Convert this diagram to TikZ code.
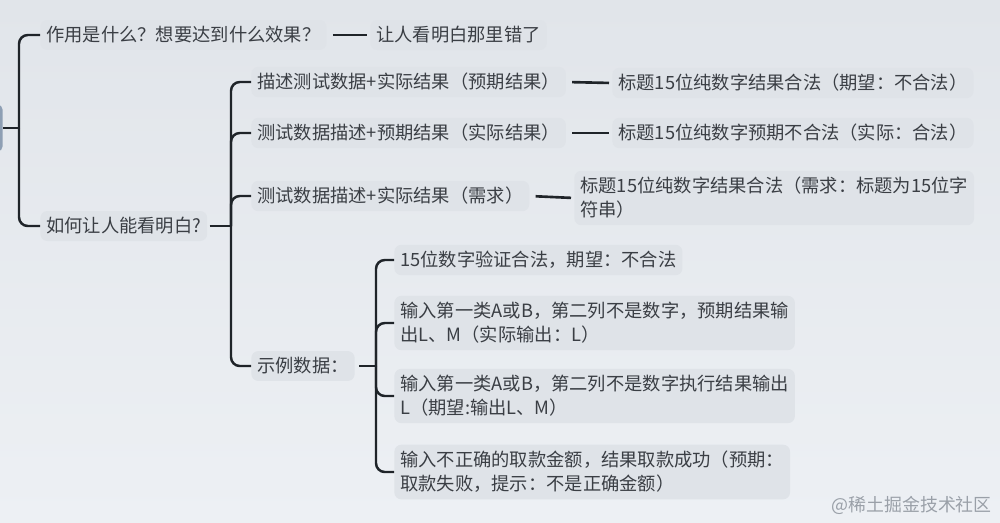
\documentclass[tikz,border=0pt]{standalone}
\usepackage{fontspec}
\setmainfont{Noto Sans CJK SC}
\usepackage{xcolor}
\usepackage{tikz}
\definecolor{PageTop}{HTML}{E1E5EA}
\definecolor{PageBottom}{HTML}{EDF0F4}
\definecolor{TopicFill}{HTML}{DFE3E8}
\definecolor{RootFill}{HTML}{8E9FB4}
\definecolor{LinkColor}{HTML}{1F2429}
\definecolor{TextColor}{HTML}{3A3E44}
\definecolor{MarkText}{HTML}{9AA0A8}
\tikzset{
	topic/.style={anchor=west, align=left, fill=TopicFill, rounded corners=4pt, inner xsep=0.12cm, inner ysep=0.13cm, text=TextColor, font=\fontsize{10.4}{13.7}\selectfont},
	rootbox/.style={anchor=east, fill=RootFill, rounded corners=3pt, minimum width=0.4cm, minimum height=0.94cm},
	link/.style={line width=1.4pt, draw=LinkColor, rounded corners=5pt},
	bar/.style={line width=1.5pt, draw=LinkColor, shorten <=0.12cm, shorten >=0.06cm},
}

\begin{document}
\begin{tikzpicture}[x=0.02cm,y=-0.02cm]
	\useasboundingbox (0,0) rectangle (1000,522);
	\clip (0,0) rectangle (1000,522);
	\shade[top color=PageTop, bottom color=PageBottom] (0,0) rectangle (1000,522);

	% Root (cut off at the left border)
	\node[rootbox] (root) at (3,128) {};

	% First level
	\node[topic] (q1) at (40,35) {作用是什么？想要达到什么效果？};
	\node[topic] (q1ans) at (370,35) {让人看明白那里错了};
	\node[topic] (q2) at (40,226) {如何让人能看明白?};

	% Second level
	\node[topic] (q2a) at (251,82) {描述测试数据+实际结果（预期结果）};
	\node[topic] (q2aEx) at (612,83) {标题15位纯数字结果合法（期望：不合法）};
	\node[topic] (q2b) at (251,133) {测试数据描述+预期结果（实际结果）};
	\node[topic] (q2bEx) at (612,133) {标题15位纯数字预期不合法（实际：合法）};
	\node[topic] (q2c) at (251,196) {测试数据描述+实际结果（需求）};
	\node[topic] (q2cEx) at (574,198) {标题15位纯数字结果合法（需求：标题为15位字\\符串）};
	\node[topic] (q2d) at (251,366) {示例数据：};

	% Sample data
	\node[topic] (ex1) at (394,260) {15位数字验证合法，期望：不合法};
	\node[topic] (ex2) at (394,323) {输入第一类A或B，第二列不是数字，预期结果输\\出L、M（实际输出：L）};
	\node[topic] (ex3) at (394,396) {输入第一类A或B，第二列不是数字执行结果输出\\L（期望:输出L、M）};
	\node[topic] (ex4) at (394,472) {输入不正确的取款金额，结果取款成功（预期：\\取款失败，提示：不是正确金额）};

	\node[anchor=east, text=MarkText, font=\fontsize{10.2}{12}\selectfont] (mark) at (998,505) {@稀土掘金技术社区};

	% Connectors
	\coordinate (hubR) at (19,128);
	\coordinate (hubQ) at (231,226);
	\coordinate (hubE) at (376,366);
	\draw[link] (root.east) -- (hubR);
	\draw[link] (hubR) |- (q1.west);
	\draw[link] (hubR) |- (q2.west);
	\draw[bar] (q1.east) -- (q1ans.west);

	\draw[link, shorten <=0.04cm] (q2.east) -- (hubQ);
	\draw[link] (hubQ) |- (q2a.west);
	\draw[link] (hubQ) |- (q2b.west);
	\draw[link] (hubQ) |- (q2c.west);
	\draw[link] (hubQ) |- (q2d.west);
	\draw[bar] (q2a.east) -- (q2aEx.west);
	\draw[bar] (q2b.east) -- (q2bEx.west);
	\draw[bar] (q2c.east) -- (q2cEx.west);

	\draw[link, shorten <=0.08cm] (q2d.east) -- (hubE);
	\draw[link] (hubE) |- (ex1.west);
	\draw[link] (hubE) |- (ex2.west);
	\draw[link] (hubE) |- (ex3.west);
	\draw[link] (hubE) |- (ex4.west);
\end{tikzpicture}
\end{document}
